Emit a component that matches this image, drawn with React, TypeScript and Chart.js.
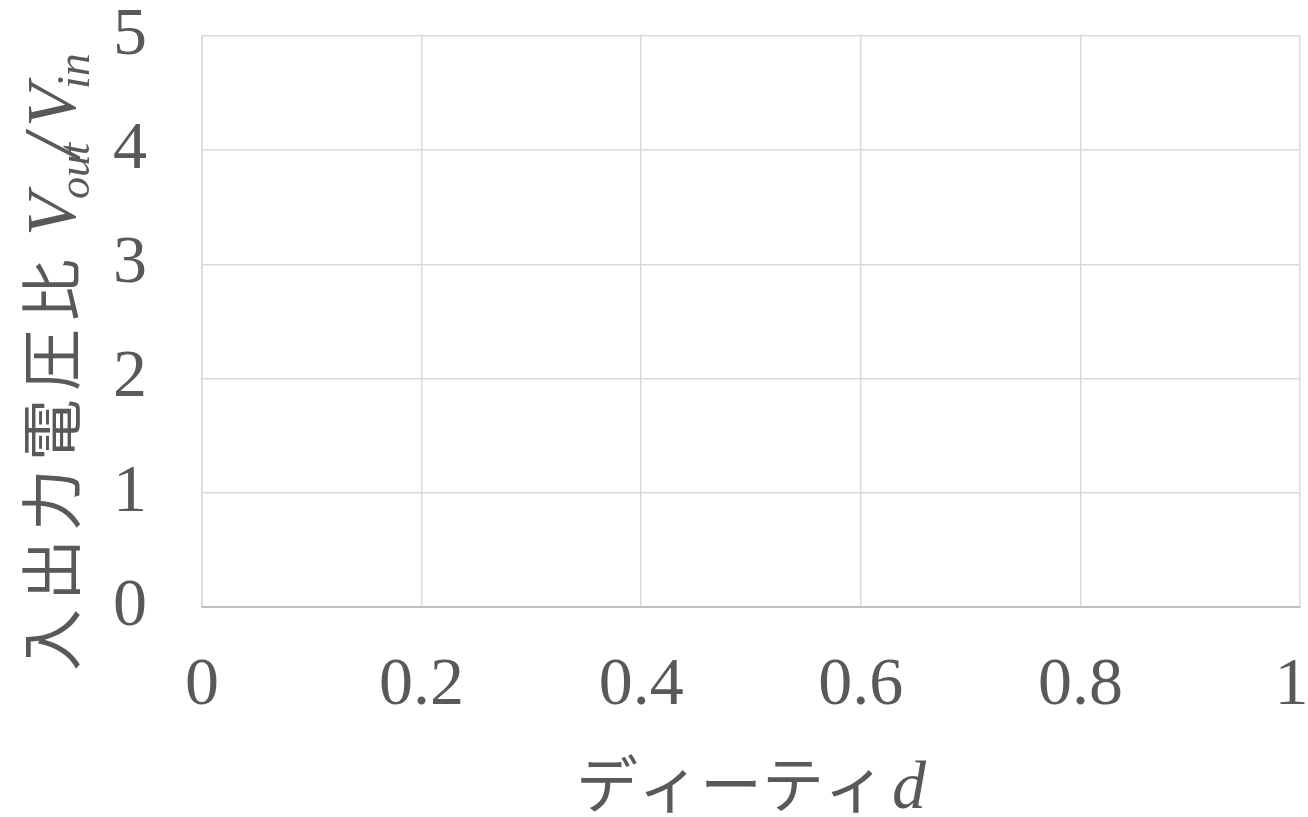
import React, { useEffect, useRef } from 'react';
import { Chart, registerables } from 'chart.js';

Chart.register(...registerables);

// ---- data (the reference chart has axes and grid but no plotted series) ----
const xTicks = [0, 0.2, 0.4, 0.6, 0.8, 1];
const xTickLabels = ['0', '0.2', '0.4', '0.6', '0.8', '1'];
const yTicks = [0, 1, 2, 3, 4, 5];
const yTickLabels = ['0', '1', '2', '3', '4', '5'];
const seriesPoints: { x: number; y: number }[] = [];
const xTitleJa = 'ディーティ';
const xTitleVar = 'd';
const yTitleJa = '入出力電圧比';
const yTitleV = 'V';
const yTitleOut = 'out';
const yTitleSlash = '/';
const yTitleIn = 'in';

const TEXT = '#595959';
const GRID = '#d9d9d9';
const AXIS = '#bfbfbf';
const SERIF = '"Liberation Serif", "Times New Roman", serif';
const JA = '"Noto Sans CJK JP", "Noto Sans", sans-serif';

const titlePlugin = {
  id: 'mixedTitles',
  afterDraw(chart: any) {
    const ctx: CanvasRenderingContext2D = chart.ctx;
    const a = chart.chartArea;
    ctx.save();
    ctx.fillStyle = TEXT;
    ctx.textBaseline = 'alphabetic';
    ctx.textAlign = 'left';

    // ---- x-axis title: ディーティ d ----
    const jaFont = `62px ${JA}`;
    const itFont = `italic 68px ${SERIF}`;
    ctx.font = jaFont;
    const w1 = ctx.measureText(xTitleJa).width;
    ctx.font = itFont;
    const w2 = ctx.measureText(xTitleVar).width;
    const gap = 6;
    const x0 = (a.left + a.right) / 2 - (w1 + gap + w2) / 2;
    const by = a.bottom + 201;
    ctx.font = jaFont;
    ctx.fillText(xTitleJa, x0, by);
    ctx.font = itFont;
    ctx.fillText(xTitleVar, x0 + w1 + gap, by);

    // ---- y-axis title (rotated): 入出力電圧比 V_out/V_in ----
    ctx.rotate(-Math.PI / 2);
    // screen point (sx, sy) maps to text coords (-sy, sx)
    const base = a.left - 127;
    const subBase = a.left - 113;
    const start = a.bottom + 68;
    ctx.font = `62px ${JA}`;
    ctx.textAlign = 'center';
    const adv = 70;
    for (let i = 0; i < yTitleJa.length; i++) {
      const cy = start - (i + 0.5) * adv;
      ctx.fillText(yTitleJa[i], -cy, base);
    }
    ctx.textAlign = 'left';
    ctx.font = `italic 70px ${SERIF}`;
    ctx.fillText(yTitleV, -(a.bottom - 371), base);
    ctx.font = `italic 44px ${SERIF}`;
    ctx.fillText(yTitleOut, -(a.bottom - 408), subBase);
    ctx.font = `italic 80px ${SERIF}`;
    ctx.fillText(yTitleSlash, -(a.bottom - 450), base + 4);
    ctx.font = `italic 70px ${SERIF}`;
    ctx.fillText(yTitleV, -(a.bottom - 480), base);
    ctx.font = `italic 46px ${SERIF}`;
    ctx.fillText(yTitleIn, -(a.bottom - 518), subBase);

    ctx.restore();
  },
};

export default function App() {
  const ref = useRef<HTMLCanvasElement | null>(null);

  useEffect(() => {
    if (!ref.current) return;
    const chart = new Chart(ref.current, {
      type: 'scatter',
      data: {
        datasets: [
          {
            data: seriesPoints,
            showLine: false,
            pointRadius: 0,
          },
        ],
      },
      options: {
        animation: false,
        responsive: false,
        maintainAspectRatio: false,
        devicePixelRatio: 1,
        layout: { padding: { top: 36, right: 8, left: 0, bottom: 0 } },
        plugins: {
          legend: { display: false },
          tooltip: { enabled: false },
          title: { display: false },
        },
        scales: {
          x: {
            type: 'linear',
            min: xTicks[0],
            max: xTicks[xTicks.length - 1],
            afterBuildTicks: (scale: any) => {
              scale.ticks = xTicks.map((v) => ({ value: v }));
            },
            afterFit: (scale: any) => {
              scale.height = 210;
              scale.paddingLeft = 0;
              scale.paddingRight = 0;
            },
            grid: {
              color: GRID,
              lineWidth: 1.5,
              drawTicks: false,
            },
            border: { color: AXIS, width: 2 },
            ticks: {
              padding: 38,
              maxRotation: 0,
              autoSkip: false,
              color: TEXT,
              font: { family: SERIF, size: 68 },
              // the last label is nudged inward (as in the reference) by a trailing space
              callback: (_v: any, i: number) =>
                i === xTickLabels.length - 1 ? xTickLabels[i] + ' ' : xTickLabels[i],
            },
          },
          y: {
            type: 'linear',
            min: yTicks[0],
            max: yTicks[yTicks.length - 1],
            afterBuildTicks: (scale: any) => {
              scale.ticks = yTicks.map((v) => ({ value: v }));
            },
            afterFit: (scale: any) => {
              scale.width = 202;
              scale.paddingTop = 0;
              scale.paddingBottom = 0;
            },
            grid: {
              color: GRID,
              lineWidth: 1.5,
              drawTicks: false,
            },
            border: { color: GRID, width: 1.5 },
            ticks: {
              padding: 55,
              autoSkip: false,
              color: TEXT,
              font: { family: SERIF, size: 68 },
              callback: (_v: any, i: number) => yTickLabels[i],
            },
          },
        },
      },
      plugins: [titlePlugin],
    } as any);
    return () => chart.destroy();
  }, []);

  return (
    <div
      style={{
        position: 'fixed',
        left: 0,
        top: 0,
        width: 1308,
        height: 817,
        background: '#ffffff',
      }}
    >
      <canvas ref={ref} width={1308} height={817} style={{ display: 'block' }} />
    </div>
  );
}
